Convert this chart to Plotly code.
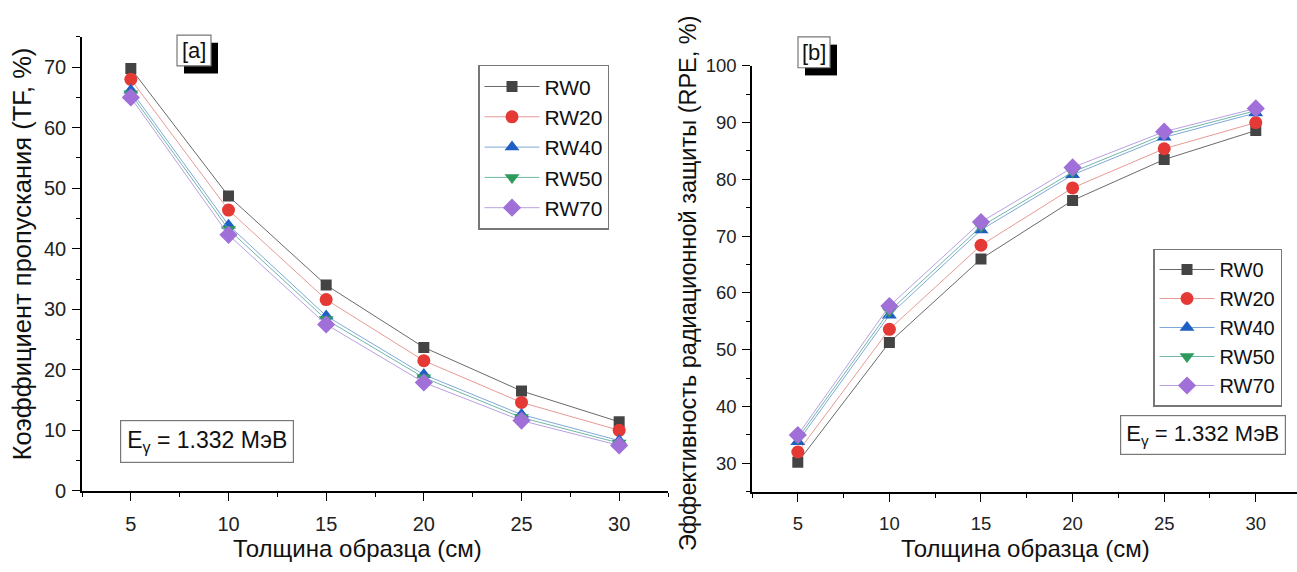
import plotly.graph_objects as go

# Sample thickness, cm
thickness = [5, 10, 15, 20, 25, 30]

# Transmission factor TF, %
tf_rw0 = [69.8, 48.7, 34.0, 23.7, 16.5, 11.4]
tf_rw20 = [68.0, 46.4, 31.6, 21.5, 14.6, 10.0]
tf_rw40 = [66.2, 43.9, 28.9, 19.2, 12.6, 8.3]
tf_rw50 = [65.6, 43.2, 28.3, 18.7, 12.1, 7.9]
tf_rw70 = [65.0, 42.3, 27.5, 17.9, 11.6, 7.5]

# Radiation protection efficiency RPE, %
rpe_rw0 = [30.2, 51.3, 66.0, 76.3, 83.5, 88.6]
rpe_rw20 = [32.0, 53.6, 68.4, 78.5, 85.4, 90.0]
rpe_rw40 = [33.8, 56.1, 71.1, 80.8, 87.4, 91.7]
rpe_rw50 = [34.4, 56.8, 71.7, 81.3, 87.9, 92.1]
rpe_rw70 = [35.0, 57.7, 72.5, 82.1, 88.4, 92.5]

names = ["RW0", "RW20", "RW40", "RW50", "RW70"]
tf_series = [tf_rw0, tf_rw20, tf_rw40, tf_rw50, tf_rw70]
rpe_series = [rpe_rw0, rpe_rw20, rpe_rw40, rpe_rw50, rpe_rw70]

marker_colors = ["#444444", "#e53935", "#1f5fc4", "#2e9a5c", "#a06fd8"]
line_colors = ["#6a6a6a", "#e79a95", "#7fa8d8", "#6fb7a8", "#b9a0e0"]
symbols = ["square", "circle", "triangle-up", "triangle-down", "diamond"]
sizes = [11, 13, 13, 13, 14]

W, H = 1297, 572
FONT = "Liberation Sans, Arial, sans-serif"


def px(x):
    return x / W


def py(y):
    return 1 - y / H


fig = go.Figure()

for i, name in enumerate(names):
    fig.add_trace(go.Scatter(
        x=thickness, y=tf_series[i], name=name, mode="lines+markers",
        line=dict(color=line_colors[i], width=1),
        marker=dict(symbol=symbols[i], size=sizes[i], color=marker_colors[i]),
        xaxis="x", yaxis="y", legend="legend",
    ))
for i, name in enumerate(names):
    fig.add_trace(go.Scatter(
        x=thickness, y=rpe_series[i], name=name, mode="lines+markers",
        line=dict(color=line_colors[i], width=1),
        marker=dict(symbol=symbols[i], size=sizes[i], color=marker_colors[i]),
        xaxis="x2", yaxis="y2", legend="legend2",
    ))


def axis_style(font_size, standoff):
    return dict(
        showgrid=False, zeroline=False, showline=True, linecolor="black", linewidth=1.6,
        ticks="outside", ticklen=8, tickwidth=1.4, tickcolor="black",
        ticklabelstandoff=standoff,
        tickfont=dict(family=FONT, size=font_size, color="#222222"),
    )


def minor(step):
    return dict(dtick=step, tick0=0, ticks="outside", ticklen=4, tickcolor="black")


fig.update_layout(
    width=W, height=H,
    margin=dict(l=0, r=0, t=0, b=0),
    paper_bgcolor="white", plot_bgcolor="white",
    font=dict(family=FONT, color="#111111"),
    xaxis=dict(domain=[px(82), px(668)], range=[2.5, 32.5], dtick=5, tick0=0,
               minor=minor(2.5), anchor="y", **axis_style(20, 6)),
    yaxis=dict(domain=[py(499), py(27)], range=[0, 75], dtick=10, tick0=0,
               minor=minor(5), anchor="x", **axis_style(20, 2)),
    xaxis2=dict(domain=[px(752), 1.0], range=[2.5, 32.25], dtick=5, tick0=0,
                minor=minor(2.5), anchor="y2", **axis_style(18.5, 6)),
    yaxis2=dict(domain=[py(500), py(57)], range=[25, 100], dtick=10, tick0=0,
                minor=minor(5), anchor="x2", **axis_style(18.5, 2)),
    legend=dict(x=px(478), y=py(56), xanchor="left", yanchor="top",
                bgcolor="white", bordercolor="#777777", borderwidth=1.5,
                font=dict(family=FONT, size=21, color="#111111"),
                tracegroupgap=0, itemwidth=55),
    legend2=dict(x=px(1153), y=py(247), xanchor="left", yanchor="top",
                 bgcolor="white", bordercolor="#777777", borderwidth=1.5,
                 font=dict(family=FONT, size=20, color="#111111"),
                 tracegroupgap=0, itemwidth=55),
    showlegend=True,
)

# Panel tags with drop shadow
shapes = []
for (x0, y0, x1, y1) in [(177, 25, 211, 57), (798, 27, 830, 59)]:
    shapes.append(dict(type="rect", xref="paper", yref="paper",
                       x0=px(x0 + 7), x1=px(x1 + 7), y0=py(y0 + 8), y1=py(y1 + 8),
                       fillcolor="black", line=dict(width=0)))
    shapes.append(dict(type="rect", xref="paper", yref="paper",
                       x0=px(x0), x1=px(x1), y0=py(y0), y1=py(y1),
                       fillcolor="white", line=dict(color="#777777", width=1.2)))
fig.update_layout(shapes=shapes)


def note(text, x, y, size, angle=0, **kw):
    return dict(text=text, x=px(x), y=py(y), xref="paper", yref="paper",
                xanchor="center", yanchor="middle", showarrow=False, textangle=angle,
                font=dict(family=FONT, size=size, color="#111111"), **kw)


annotations = [
    note("[a]", 194, 41, 22),
    note("[b]", 814, 43, 22),
    # energy boxes
    note("E<sub>γ</sub> = 1.332 МэВ", 207, 448, 23,
         bgcolor="white", bordercolor="#777777", borderwidth=1.2, borderpad=6),
    note("E<sub>γ</sub> = 1.332 МэВ", 1203, 441, 22,
         bgcolor="white", bordercolor="#777777", borderwidth=1.2, borderpad=5),
    # axis titles
    note("Толщина образца (см)", 357, 559, 24),
    note("Толщина образца (см)", 1025, 559, 24),
    note("Коэффициент пропускания (TF, %)", 22, 253, 25.5, angle=-90),
    note("Эффективность радиационной защиты (RPE, %)", 688, 283, 23.5, angle=-90),
]
fig.update_layout(annotations=annotations)

fig.write_html("out.html")
